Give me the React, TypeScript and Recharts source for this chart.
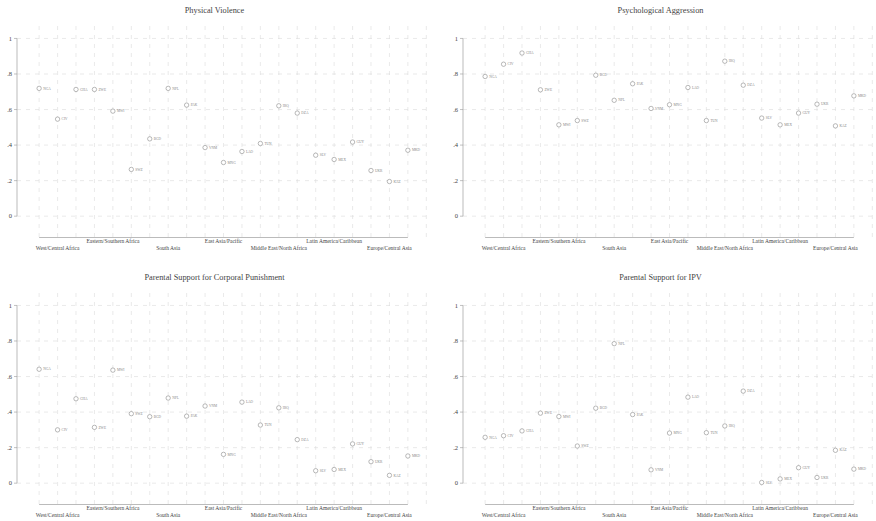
import { ScatterChart, Scatter, XAxis, YAxis, CartesianGrid, ReferenceLine } from 'recharts'

const regions = [
  'West/Central Africa',
  'Eastern/Southern Africa',
  'South Asia',
  'East Asia/Pacific',
  'Middle East/North Africa',
  'Latin America/Caribbean',
  'Europe/Central Asia'
]
const regionTicks = [2, 5, 8, 11, 14, 17, 20]
const countries = ['NGA', 'CIV', 'GHA', 'ZWE', 'MWI', 'SWZ', 'BGD', 'NPL', 'PAK', 'VNM', 'MNG', 'LAO', 'TUN', 'IRQ', 'DZA', 'SLV', 'MEX', 'GUY', 'UKR', 'KAZ', 'MKD']
const yTicks = [0, 0.2, 0.4, 0.6, 0.8, 1]

const physical = [0.719, 0.546, 0.713, 0.713, 0.591, 0.263, 0.435, 0.719, 0.625, 0.386, 0.302, 0.364, 0.409, 0.621, 0.58, 0.343, 0.319, 0.417, 0.257, 0.195, 0.371]
const psych = [0.786, 0.855, 0.918, 0.711, 0.514, 0.538, 0.793, 0.652, 0.745, 0.606, 0.627, 0.724, 0.538, 0.872, 0.737, 0.552, 0.514, 0.58, 0.63, 0.508, 0.677]
const corporal = [0.641, 0.3, 0.475, 0.314, 0.636, 0.391, 0.374, 0.479, 0.377, 0.434, 0.162, 0.456, 0.327, 0.424, 0.245, 0.07, 0.077, 0.221, 0.121, 0.044, 0.153]
const ipv = [0.258, 0.267, 0.294, 0.394, 0.375, 0.209, 0.422, 0.785, 0.386, 0.075, 0.282, 0.484, 0.284, 0.322, 0.518, 0.004, 0.024, 0.087, 0.032, 0.185, 0.079]

const FONT = '"Liberation Serif", "Times New Roman", serif'
const gridX = Array.from({ length: 22 }, (_, i) => i + 1)

const fmtY = (v: number) => (v === 0 ? '0' : v === 1 ? '1' : '.' + Math.round(v * 10))

const Marker = (props: any) => {
  const { cx, cy, payload } = props
  return (
    <g>
      <circle cx={cx} cy={cy} r={2.2} fill="#fff" stroke="#8a8a8a" strokeWidth={0.6} />
      <text x={cx + 4} y={cy + 1.2} fontSize={3.5} fill="#888" fontFamily={FONT}>
        {payload.code}
      </text>
    </g>
  )
}

const RegionTick = (props: any) => {
  const { x, y, payload, index } = props
  const lower = index % 2 === 0
  return (
    <text x={x} y={y + (lower ? 12 : 5.5)} textAnchor="middle" fontSize={5.5} fill="#444" fontFamily={FONT}>
      {regions[regionTicks.indexOf(payload.value)]}
    </text>
  )
}

interface PanelProps {
  title: string
  values: number[]
  left: number
  top: number
  rightSide: boolean
}

function Panel({ title, values, left, top, rightSide }: PanelProps) {
  const data = values.map((v, i) => ({ x: i + 1, y: v, code: countries[i] }))
  const plotLeft = rightSide ? 25 : 17
  const width = 438
  return (
    <div style={{ position: 'absolute', left, top, width, height: 254 }}>
      <div
        style={{
          position: 'absolute',
          left: plotLeft + 197.5 - 150,
          width: 300,
          top: 5,
          textAlign: 'center',
          fontFamily: FONT,
          fontSize: 8.3,
          color: '#444',
          lineHeight: '12px'
        }}
      >
        {title}
      </div>
      <ScatterChart width={width} height={254} margin={{ top: 26, right: rightSide ? 0 : 8, bottom: 0, left: 0 }}>
        <CartesianGrid stroke="#dcdcdc" strokeDasharray="4 5" strokeWidth={0.6} verticalValues={gridX} horizontalValues={yTicks} />
        <XAxis
          type="number"
          dataKey="x"
          domain={[-0.2, 22.2]}
          ticks={regionTicks}
          interval={0}
          axisLine={false}
          tickLine={false}
          tickSize={0}
          tickMargin={0}
          height={16.5}
          tick={<RegionTick />}
        />
        <YAxis
          type="number"
          dataKey="y"
          domain={[-0.12, 1.07]}
          ticks={yTicks}
          interval={0}
          width={plotLeft}
          axisLine={false}
          tickLine={{ stroke: '#999', strokeWidth: 0.6 }}
          tickSize={3}
          tickMargin={2}
          tickFormatter={fmtY}
          tick={{ fontSize: 6.5, fill: '#444', fontFamily: FONT }}
        />
        <ReferenceLine
          segment={[{ x: -0.2, y: 0 }, { x: -0.2, y: 1 }]}
          stroke="#aaa"
          strokeWidth={0.8}
          ifOverflow="visible"
        />
        <ReferenceLine
          segment={[{ x: 1, y: -0.12 }, { x: 21, y: -0.12 }]}
          stroke="#aaa"
          strokeWidth={0.8}
          ifOverflow="visible"
        />
        <Scatter data={data} shape={<Marker />} isAnimationActive={false} />
      </ScatterChart>
    </div>
  )
}

export default function App() {
  return (
    <div style={{ position: 'absolute', left: 0, top: 0, width: 876, height: 521, background: '#fff', overflow: 'hidden' }}>
      <Panel title="Physical Violence" values={physical} left={0} top={0} rightSide={false} />
      <Panel title="Psychological Aggression" values={psych} left={438} top={0} rightSide={true} />
      <Panel title="Parental Support for Corporal Punishment" values={corporal} left={0} top={267} rightSide={false} />
      <Panel title="Parental Support for IPV" values={ipv} left={438} top={267} rightSide={true} />
    </div>
  )
}
